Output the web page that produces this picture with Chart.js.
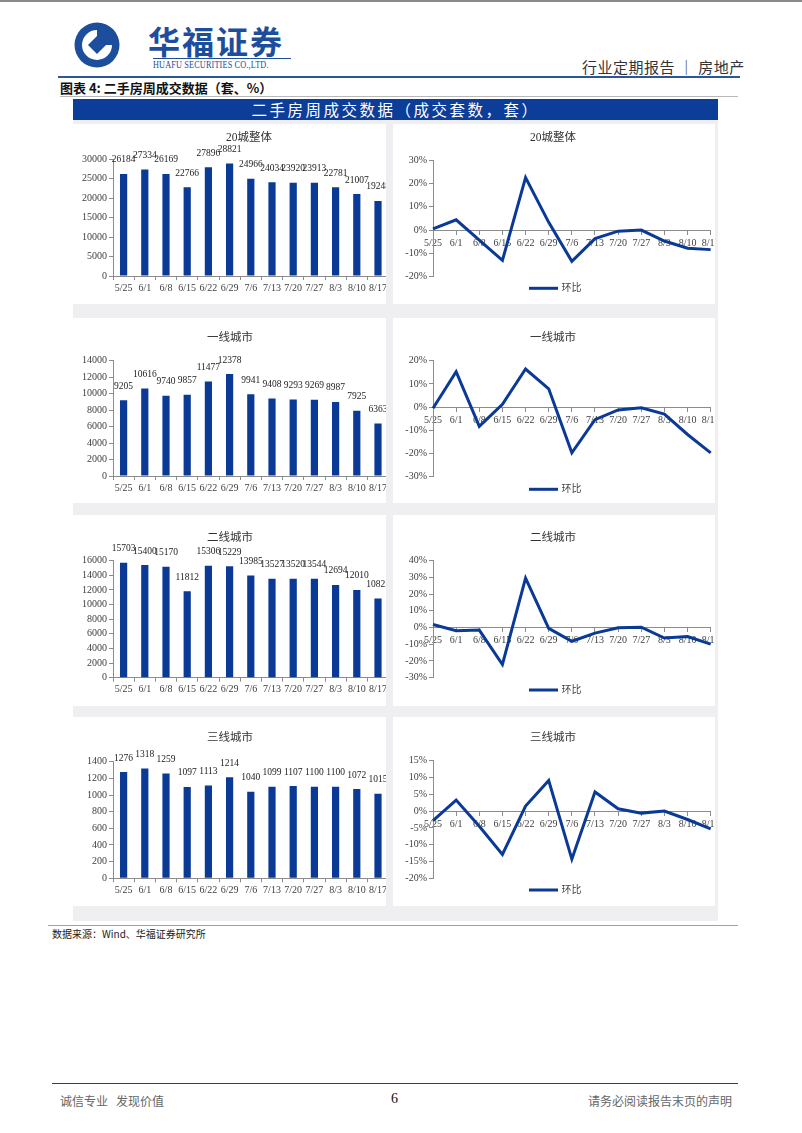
<!DOCTYPE html>
<html lang="zh-CN">
<head>
<meta charset="UTF-8">
<title>二手房周成交数据</title>
<script src="https://cdn.jsdelivr.net/npm/chart.js"></script>
<style>
  body { margin: 0; background: #fff; font-family: "Liberation Serif", "Noto Sans CJK SC", serif; color: #222; }
  .page { position: relative; width: 802px; height: 1133px; overflow: hidden; }
  .abs { position: absolute; white-space: nowrap; }
  .panel { position: absolute; background: #fff; overflow: hidden; }
  .panel canvas { position: absolute; left: 0; top: 0; }
  .cn { font-family: "Noto Sans CJK SC", sans-serif; }
</style>
</head>
<body>
<div class="page">
  <div class="abs" style="left:0;top:0;width:802px;height:2px;background:#8a8a8a"></div>

  <!-- header -->
  <svg class="abs" style="left:72px;top:22px" width="50" height="46" viewBox="0 0 50 46">
    <circle cx="25" cy="23" r="22.5" fill="#1d4e9e"/>
    <path d="M25 8 A15 15 0 1 0 40 23 L31 23 A6 6 0 1 1 25 17 Z" fill="#fff"/>
    <path d="M25 14 L34 23 L25 32 L16 23 Z" fill="#1d4e9e"/>
  </svg>
  <div class="abs cn" style="left:148px;top:17px;font-size:32px;font-weight:700;color:#1d4e9e;letter-spacing:2px">华福证券</div>
  <div class="abs" style="left:153px;top:58px;width:138px;height:1px;background:#1d4e9e"></div>
  <div class="abs" style="left:153px;top:59px;font-size:10px;color:#1d4e9e;transform:scaleX(0.82);transform-origin:left top;font-family:'Liberation Serif',serif;letter-spacing:0.2px">HUAFU SECURITIES CO.,LTD.</div>
  <div class="abs cn" style="left:582px;top:56px;font-size:15px;color:#333;letter-spacing:0.5px">行业定期报告 ｜ 房地产</div>
  <div class="abs" style="left:58px;top:76px;width:682px;height:2px;background:#2b5797"></div>

  <div class="abs cn" style="left:60px;top:78px;font-size:13px;font-weight:700;color:#111">图表 4:  二手房周成交数据（套、%）</div>
  <div class="abs" style="left:60px;top:96px;width:678px;height:1px;background:#b8b8b8"></div>

  <!-- banner and chart block -->
  <div class="abs" style="left:73px;top:119px;width:645px;height:802px;background:#efeff2"></div>
  <div class="abs cn" style="left:73px;top:99px;width:645px;height:21px;background:#0b3d99;color:#fff;font-size:15.5px;line-height:21px;text-align:center;letter-spacing:2.5px">二手房周成交数据（成交套数，套）</div>

  <div class="panel" style="left:73px;top:124px;width:313px;height:180px"><canvas id="bar20" width="335" height="180"></canvas></div>
  <div class="panel" style="left:393px;top:124px;width:322px;height:180px"><canvas id="line20" width="340" height="180"></canvas></div>
  <div class="panel" style="left:73px;top:318px;width:313px;height:185px"><canvas id="barT1" width="335" height="185"></canvas></div>
  <div class="panel" style="left:393px;top:318px;width:322px;height:185px"><canvas id="lineT1" width="340" height="185"></canvas></div>
  <div class="panel" style="left:73px;top:515px;width:313px;height:191px"><canvas id="barT2" width="335" height="191"></canvas></div>
  <div class="panel" style="left:393px;top:515px;width:322px;height:191px"><canvas id="lineT2" width="340" height="191"></canvas></div>
  <div class="panel" style="left:73px;top:717px;width:313px;height:189px"><canvas id="barT3" width="335" height="189"></canvas></div>
  <div class="panel" style="left:393px;top:717px;width:322px;height:189px"><canvas id="lineT3" width="340" height="189"></canvas></div>

  <div class="abs" style="left:48px;top:925px;width:690px;height:1px;background:#8fa3c0"></div>
  <div class="abs cn" style="left:52px;top:926px;font-size:10px;color:#222">数据来源：Wind、华福证券研究所</div>

  <!-- footer -->
  <div class="abs" style="left:52px;top:1083px;width:686px;height:1px;background:#1f3f7a"></div>
  <div class="abs cn" style="left:60px;top:1092px;font-size:12px;color:#666">诚信专业&nbsp;&nbsp;&nbsp;发现价值</div>
  <div class="abs" style="left:391px;top:1091px;font-size:14px;color:#111">6</div>
  <div class="abs cn" style="left:588px;top:1092px;font-size:12px;color:#666">请务必阅读报告末页的声明</div>
</div>

<script>
const weeks = ['5/25', '6/1', '6/8', '6/15', '6/22', '6/29', '7/6', '7/13', '7/20', '7/27', '8/3', '8/10', '8/17'];

// 成交套数
const deals20 = [26184, 27334, 26169, 22766, 27896, 28821, 24966, 24034, 23920, 23913, 22781, 21007, 19248];
const dealsTier1 = [9205, 10616, 9740, 9857, 11477, 12378, 9941, 9408, 9293, 9269, 8987, 7925, 6363];
const dealsTier2 = [15703, 15400, 15170, 11812, 15306, 15229, 13985, 13527, 13520, 13544, 12694, 12010, 10825];
const dealsTier3 = [1276, 1318, 1259, 1097, 1113, 1214, 1040, 1099, 1107, 1100, 1100, 1072, 1015];

// 环比 (%)
const mom20 = [0.5, 4.4, -4.3, -13.0, 22.5, 3.3, -13.4, -3.7, -0.5, 0.0, -4.7, -7.8, -8.4];
const momTier1 = [-0.5, 15.3, -8.3, 1.2, 16.4, 7.9, -19.7, -5.4, -1.2, -0.3, -3.0, -11.8, -19.7];
const momTier2 = [1.8, -1.9, -1.5, -22.1, 29.6, -0.5, -8.2, -3.3, -0.1, 0.2, -6.3, -5.4, -9.9];
const momTier3 = [-2.8, 3.3, -4.5, -12.9, 1.5, 9.1, -14.3, 5.7, 0.7, -0.6, 0.0, -2.5, -5.3];

const BLUE = '#0b3a96';
const AXIS = '#8c8c8c';
const TICK = '#404040';
const FONT = '"Liberation Serif", "Noto Sans CJK SC", serif';

// chart title + optional legend, drawn at fixed spots of the panel
const panelText = {
  id: 'panelText',
  afterDraw(chart, args, opts) {
    const ctx = chart.ctx;
    ctx.save();
    ctx.fillStyle = '#333';
    ctx.font = '11.5px ' + FONT;
    ctx.textAlign = 'center';
    ctx.textBaseline = 'middle';
    ctx.fillText(opts.title, opts.x, opts.y);
    if (opts.legendY) {
      ctx.strokeStyle = BLUE;
      ctx.lineWidth = 3;
      ctx.beginPath();
      ctx.moveTo(136, opts.legendY);
      ctx.lineTo(165, opts.legendY);
      ctx.stroke();
      ctx.fillStyle = '#444';
      ctx.font = '10px ' + FONT;
      ctx.textAlign = 'left';
      ctx.fillText('环比', 168.5, opts.legendY);
    }
    ctx.restore();
  }
};

const barValues = {
  id: 'barValues',
  afterDatasetsDraw(chart) {
    if (chart.config.type !== 'bar') return;
    const ctx = chart.ctx;
    const values = chart.data.datasets[0].data;
    ctx.save();
    ctx.fillStyle = '#222';
    ctx.font = '9.5px ' + FONT;
    ctx.textAlign = 'center';
    ctx.textBaseline = 'middle';
    chart.getDatasetMeta(0).data.forEach((bar, i) => {
      ctx.fillText(String(values[i]), bar.x, bar.y - 14);
    });
    ctx.restore();
  }
};

function drawBar(id, title, values, max, step, pad, titleX, titleY) {
  new Chart(document.getElementById(id), {
    type: 'bar',
    data: {
      labels: weeks,
      datasets: [{ data: values, backgroundColor: BLUE, barPercentage: 0.34, categoryPercentage: 1 }]
    },
    options: {
      responsive: false,
      animation: false,
      layout: { padding: { top: pad[0], right: 19.4, bottom: pad[1], left: 0 } },
      plugins: {
        legend: { display: false },
        tooltip: { enabled: false },
        panelText: { title: title, x: titleX, y: titleY }
      },
      scales: {
        x: {
          grid: { offset: true, drawOnChartArea: false, tickLength: 4, color: AXIS },
          border: { color: AXIS },
          ticks: { autoSkip: false, maxRotation: 0, padding: 2, color: TICK, font: { family: FONT, size: 10 } },
          afterFit: s => { s.height = 22; }
        },
        y: {
          min: 0,
          max: max,
          grid: { drawOnChartArea: false, tickLength: 4, color: AXIS },
          border: { color: AXIS },
          ticks: { stepSize: step, autoSkip: false, padding: 2, color: TICK, font: { family: FONT, size: 10 }, callback: v => String(v) },
          afterFit: s => { s.width = 40; }
        }
      }
    },
    plugins: [panelText, barValues]
  });
}

function drawLine(id, title, values, min, max, step, pad, titleY, legendY) {
  new Chart(document.getElementById(id), {
    type: 'line',
    data: {
      labels: weeks,
      datasets: [{ data: values, borderColor: BLUE, borderWidth: 3, pointRadius: 0, tension: 0, fill: false }]
    },
    options: {
      responsive: false,
      animation: false,
      layout: { padding: { top: pad[0], right: 22.3, bottom: pad[1], left: 0 } },
      plugins: {
        legend: { display: false },
        tooltip: { enabled: false },
        panelText: { title: title, x: 160, y: titleY, legendY: legendY }
      },
      scales: {
        x: {
          position: { y: 0 },
          offset: false,
          grid: { drawOnChartArea: false, tickLength: 4, color: AXIS },
          border: { color: AXIS },
          ticks: { autoSkip: false, maxRotation: 0, padding: 3, color: TICK, font: { family: FONT, size: 10 } }
        },
        y: {
          min: min,
          max: max,
          grid: { drawOnChartArea: false, tickLength: 4, color: AXIS },
          border: { color: AXIS },
          ticks: { stepSize: step, autoSkip: false, padding: 2, color: TICK, font: { family: FONT, size: 10 }, callback: v => v + '%' },
          afterFit: s => { s.width = 40; }
        }
      }
    },
    plugins: [panelText]
  });
}

drawBar('bar20', '20城整体', deals20, 30000, 5000, [35, 6], 176, 13.7);
drawBar('barT1', '一线城市', dealsTier1, 14000, 2000, [42.7, 5], 157, 20.3);
drawBar('barT2', '二线城市', dealsTier2, 16000, 2000, [45.7, 6.3], 157, 23.3);
drawBar('barT3', '三线城市', dealsTier3, 1400, 200, [44.7, 5.7], 157, 21.3);

drawLine('line20', '20城整体', mom20, -20, 30, 10, [36, 27.3], 13.7, 164.3);
drawLine('lineT1', '一线城市', momTier1, -30, 20, 10, [42.7, 26.3], 20.3, 171.3);
drawLine('lineT2', '二线城市', momTier2, -30, 40, 10, [45.7, 28.3], 23.3, 175);
drawLine('lineT3', '三线城市', momTier3, -20, 15, 5, [43.7, 27.7], 21.3, 173);
</script>
</body>
</html>
